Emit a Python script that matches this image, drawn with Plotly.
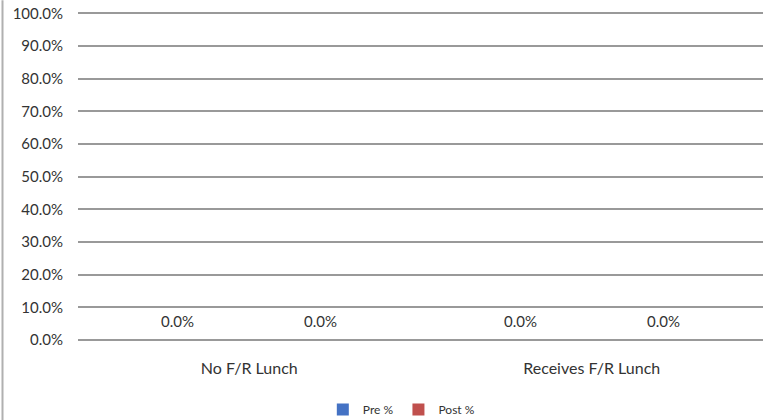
import plotly.graph_objects as go

categories = ["No F/R Lunch", "Receives F/R Lunch"]
pre_values = [0.0, 0.0]
post_values = [0.0, 0.0]
series_names = ["Pre %", "Post %"]
y_ticks = [i / 10 for i in range(11)]

font_family = "Lato, Open Sans, Liberation Sans, Arial, sans-serif"
text_color = "#333333"
bargap = 0.165
y_max = 1.01

fig = go.Figure()
series = [(series_names[0], pre_values, "#4472C4"),
          (series_names[1], post_values, "#C0504D")]
for name, vals, color in series:
    fig.add_trace(go.Bar(x=categories, y=vals, name=name, marker_color=color,
                         marker_line_width=0))

# data labels above each (zero-height) bar
annotations = []
half = (1 - bargap) / 4
for k, (name, vals, color) in enumerate(series):
    for i, v in enumerate(vals):
        annotations.append(dict(
            x=i + (-half if k == 0 else half), y=v, xref="x", yref="y",
            text=f"{v:.1%}", showarrow=False, yshift=19,
            font=dict(size=15, color=text_color, family=font_family)))

plot_h = 327 * y_max
top = 340 - plot_h
bottom = 420 - 340

fig.update_layout(
    width=763, height=420,
    margin=dict(l=78, r=0, t=top, b=bottom, autoexpand=False),
    paper_bgcolor="white", plot_bgcolor="white",
    barmode="group", bargap=bargap, bargroupgap=0,
    font=dict(family=font_family, size=14, color=text_color),
    showlegend=True,
    legend=dict(orientation="h", x=0.472, xanchor="center",
                y=-(404 - 340 - 9) / plot_h, yanchor="top",
                font=dict(size=12, color=text_color), itemwidth=30,
                traceorder="normal"),
    xaxis=dict(showgrid=False, showline=False, ticks="", tickfont=dict(size=16),
               ticklabelstandoff=17, automargin=False),
    yaxis=dict(range=[0, y_max], tickvals=y_ticks, tickformat=".1%",
               showgrid=True, gridcolor="#999999", gridwidth=1.6,
               zeroline=True, zerolinecolor="#999999", zerolinewidth=1.6,
               showline=False, ticks="", tickfont=dict(size=15),
               ticklabelstandoff=14, automargin=False),
    annotations=annotations,
    shapes=[dict(type="line", xref="paper", yref="paper", x0=-75.5/685, x1=-75.5/685,
                 y0=-bottom/plot_h, y1=1 + top/plot_h,
                 line=dict(color="#b0b0b0", width=2))],
)

fig.write_html("out.html", post_script="document.body.style.margin='0';",
               config={"displayModeBar": False})
